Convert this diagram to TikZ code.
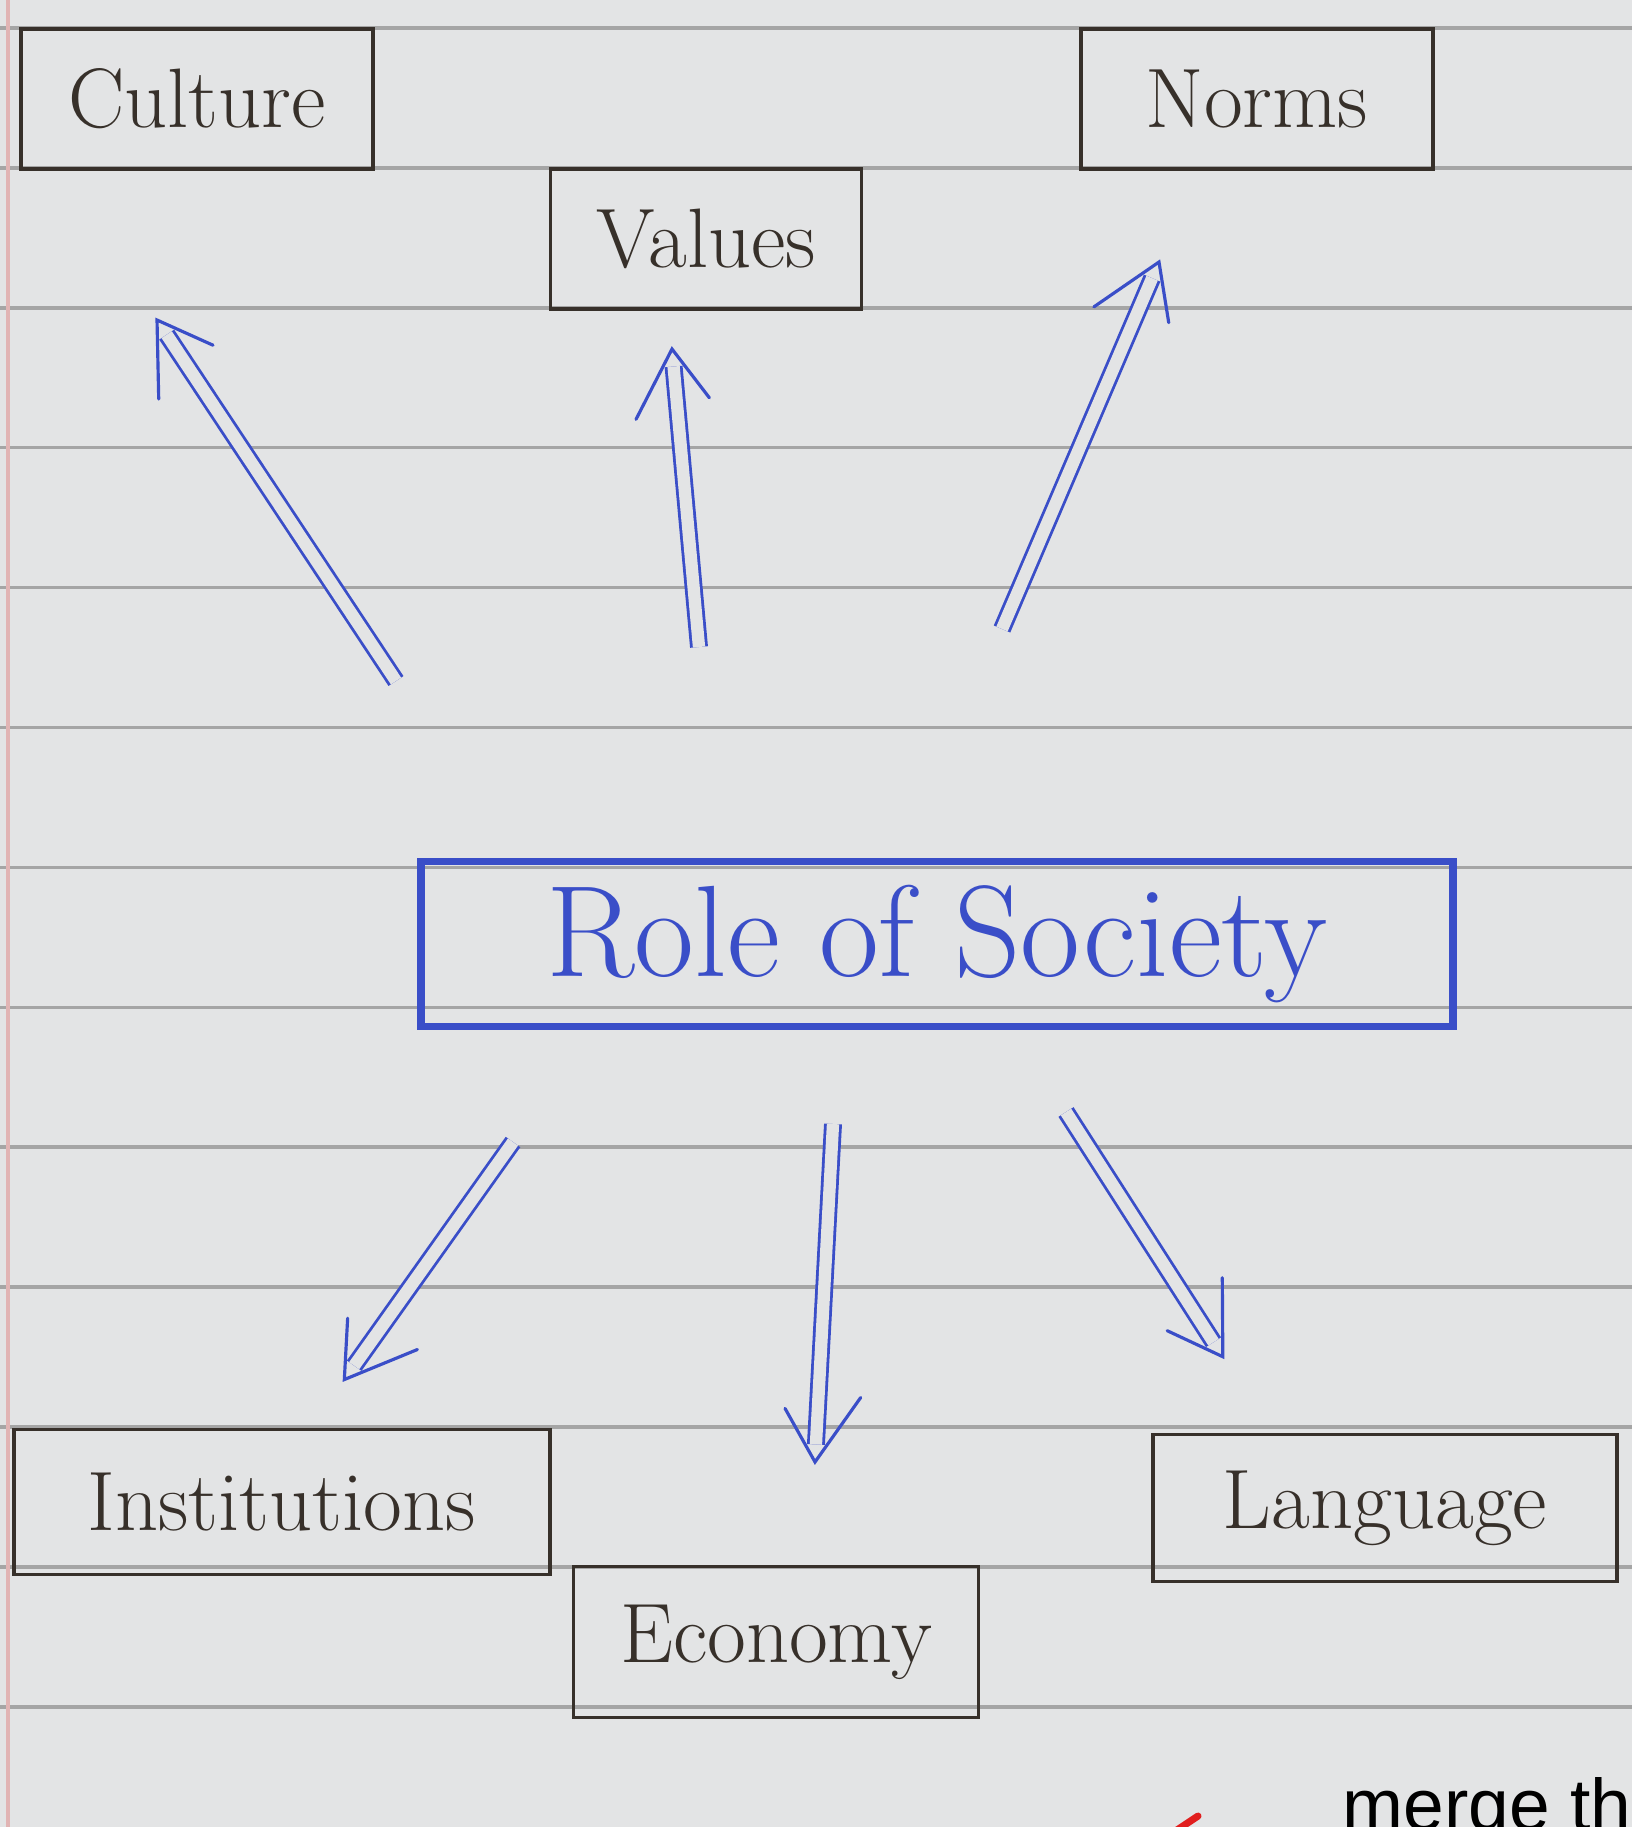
\documentclass[tikz,border=0pt]{standalone}
\usepackage{fontspec}
\usetikzlibrary{decorations.markings}
\newfontfamily\notefont{Liberation Sans}
\definecolor{P}{RGB}{227, 228, 229}
\definecolor{L}{RGB}{165, 165, 165}
\definecolor{M}{RGB}{225, 180, 180}
\definecolor{K}{RGB}{55, 48, 42}
\definecolor{B}{RGB}{58, 78, 200}
\definecolor{R}{RGB}{225, 30, 30}
\tikzset{
  vhead/.style={postaction={decorate, decoration={markings,
      mark=at position 1 with {\draw[B, line width=0.9pt, line cap=round, line join=miter]
        (-19pt,12pt) -- (0pt,0pt) -- (-19pt,-12pt);}}}}
}

\begin{document}
\begin{tikzpicture}[x=0.01cm, y=-0.01cm,
   box/.style={draw=K, line width=1pt, inner sep=0pt, text=K,
     font=\fontsize{24pt}{28pt}\selectfont},
   mainbox/.style={draw=B, line width=2.2pt, inner sep=0pt, text=B,
     font=\fontsize{37pt}{42pt}\selectfont},
   dbl/.style={draw=B, line width=0.8pt, double=P, double distance=3.5pt,
     shorten >=5pt, vhead}]
   % paper
   \useasboundingbox[fill=P] (0,0) rectangle (1632,1827);
   \foreach \k in {0,...,12}
      \draw[L, line width=1pt] (0,{28+139.9*\k}) -- (1632,{28+139.9*\k});
   \draw[M, line width=1.2pt] (8,0) -- (8,1827);
   % boxes
   \node[box, minimum width=3.52cm, minimum height=1.40cm] (culture) at (197,99) {Culture};
   \node[box, minimum width=3.11cm, minimum height=1.40cm] (values) at (706,239) {Values};
   \node[box, minimum width=3.52cm, minimum height=1.40cm] (norms) at (1257,99) {Norms};
   \node[mainbox, minimum width=10.31cm, minimum height=1.65cm] (society) at (937,944) {Role of Society};
   \node[box, minimum width=5.36cm, minimum height=1.45cm] (institutions) at (282,1502) {Institutions};
   \node[box, minimum width=4.05cm, minimum height=1.51cm] (economy) at (776,1642) {Economy};
   \node[box, minimum width=4.64cm, minimum height=1.47cm] (language) at (1385,1508) {Language};
   % arrow ends
   \coordinate (cs) at (396,681);  \coordinate (ce) at (157,320);
   \coordinate (vs) at (699,647);  \coordinate (ve) at (672,349);
   \coordinate (ns) at (1002,629); \coordinate (ne) at (1159,262);
   \coordinate (is) at (513,1142); \coordinate (ie) at (344,1380);
   \coordinate (es) at (833,1124); \coordinate (ee) at (815,1462);
   \coordinate (ls) at (1066,1112); \coordinate (le) at (1223,1357);
   \draw[dbl] (cs) -- (ce);
   \draw[dbl] (vs) -- (ve);
   \draw[dbl] (ns) -- (ne);
   \draw[dbl] (is) -- (ie);
   \draw[dbl] (es) -- (ee);
   \draw[dbl] (ls) -- (le);
   % note in the corner
   \node[anchor=base west, inner sep=0pt, font=\notefont\fontsize{20.8pt}{25pt}\selectfont] (note) at (1342,1830) {merge th};
   \coordinate (ra) at (1177,1830); \coordinate (rb) at (1198,1816);
   \draw[R, line width=2pt, line cap=round] (ra) -- (rb);
\end{tikzpicture}
\end{document}
